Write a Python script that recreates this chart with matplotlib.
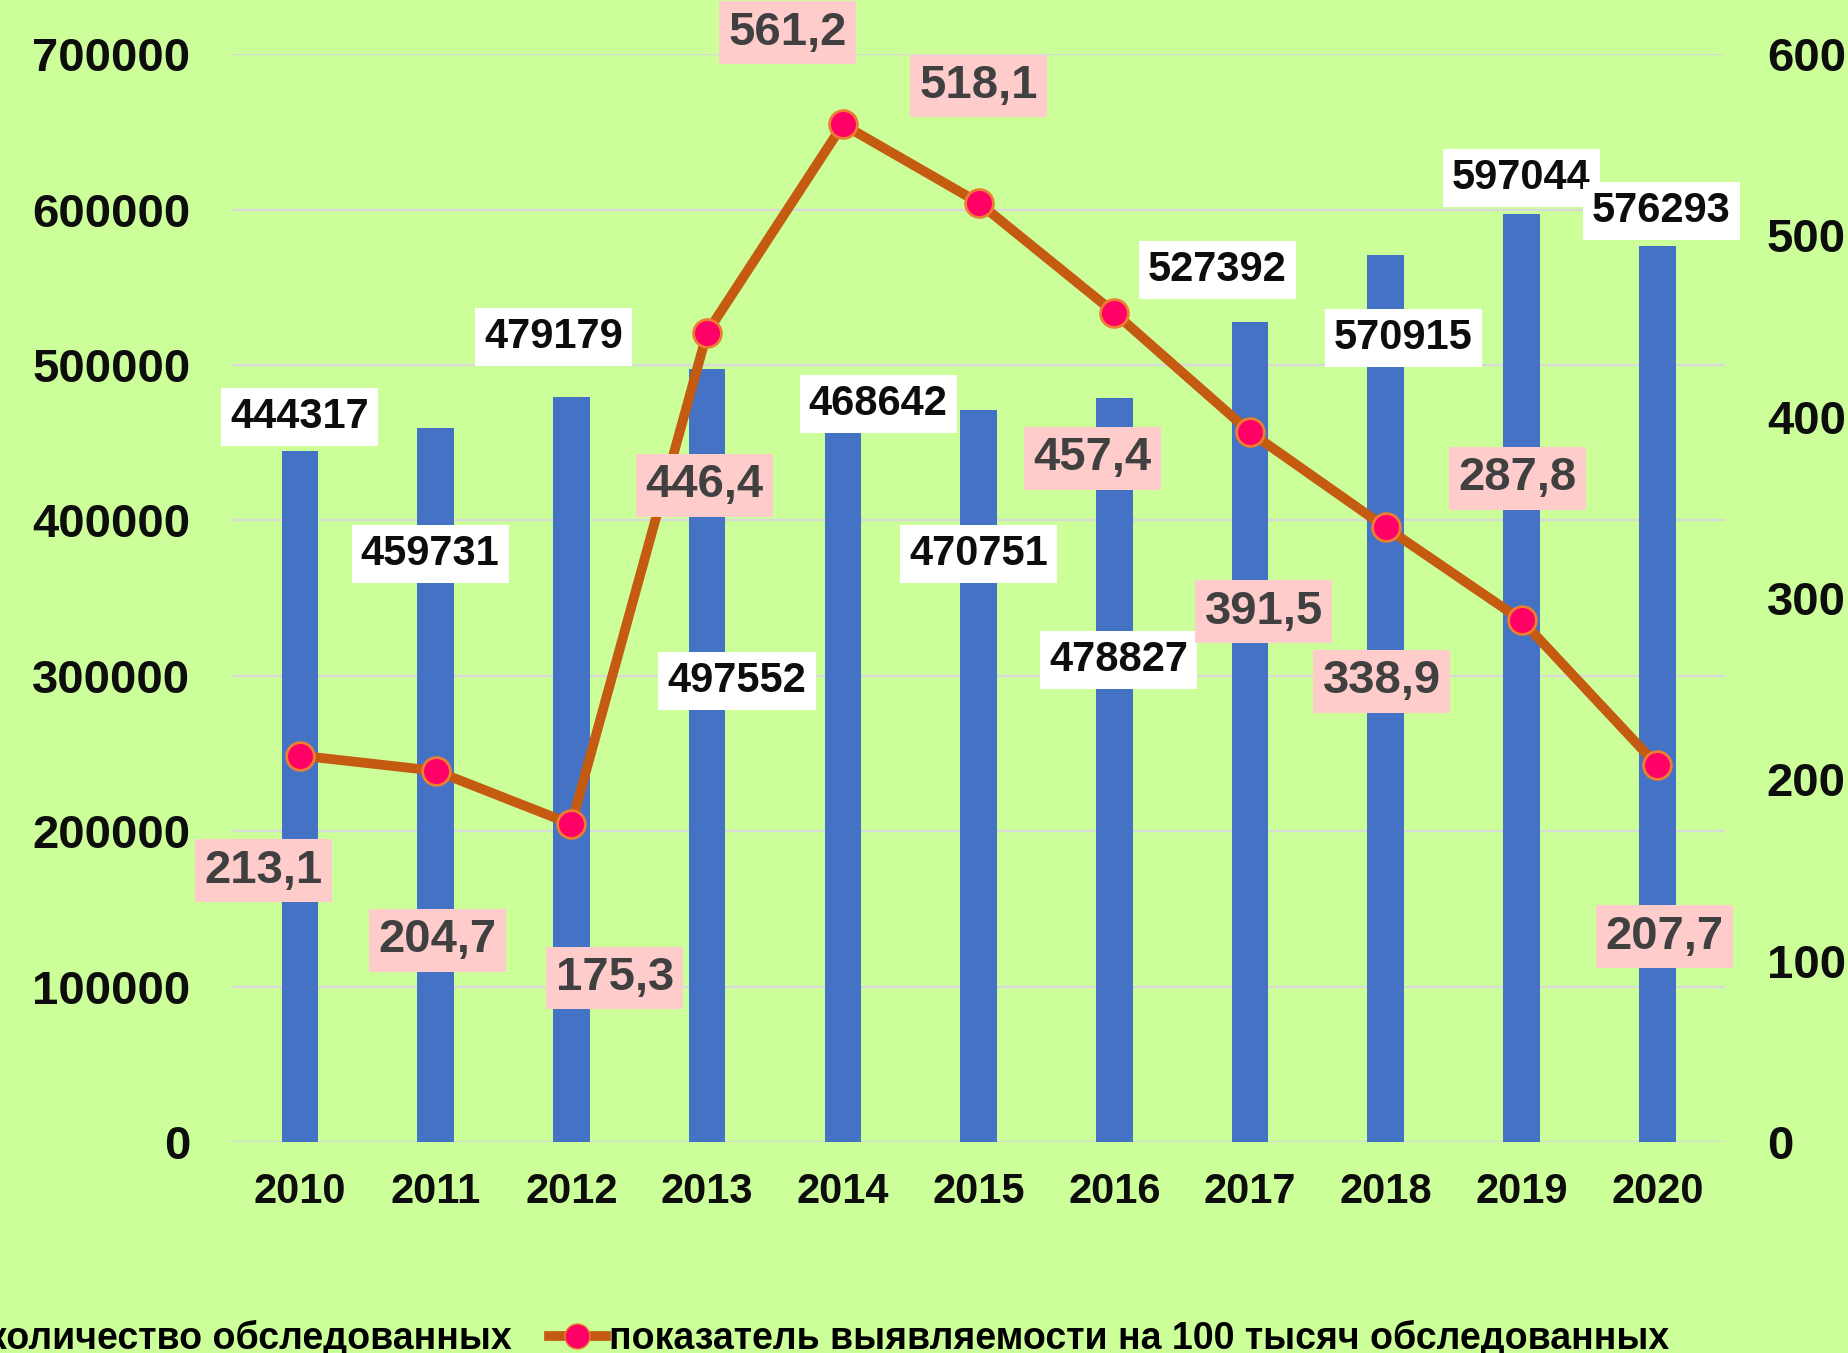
import numpy as np
import matplotlib
matplotlib.use('Agg')
import matplotlib.pyplot as plt
from matplotlib.lines import Line2D
from matplotlib.patches import Patch

plt.rcParams['font.family'] = ['Liberation Sans', 'DejaVu Sans']
plt.rcParams['font.weight'] = 'bold'

years = ['2010', '2011', '2012', '2013', '2014', '2015', '2016', '2017', '2018', '2019', '2020']
examined = [444317, 459731, 479179, 497552, 468642, 470751, 478827, 527392, 570915, 597044, 576293]
rate = [213.1, 204.7, 175.3, 446.4, 561.2, 518.1, 457.4, 391.5, 338.9, 287.8, 207.7]

label_bar = 'количество обследованных'
label_line = 'показатель выявляемости на 100 тысяч обследованных'

# label centres (x shift in categories, y in axis units) - placed by hand like in the original
bar_lbl_dx = [0, -0.04, -0.13, 0.22, 0.26, 0, 0.03, -0.24, 0.13, 0, 0.03]
bar_lbl_y = [466400, 378400, 518000, 296500, 474800, 378400, 310200, 561200, 517200, 620400, 599100]
line_lbl_dx = [-0.27, 0.01, 0.32, -0.02, -0.41, 0, -0.16, 0.10, -0.03, -0.03, 0.05]
line_lbl_y = [149.5, 111.2, 90.4, 362.1, 611.7, 582.4, 377.0, 292.5, 254.2, 366.0, 113.1]

bg = '#CCFF99'
bar_color = '#4472C4'
line_color = '#C55A11'
txt = '#0D0D0D'

fig = plt.figure(figsize=(18.49, 13.53), dpi=100, facecolor=bg)
ax = fig.add_axes([0.1255, 0.156, 0.8075, 0.804])
ax.set_facecolor(bg)
x = np.arange(len(years))

ax.bar(x, examined, width=0.27, color=bar_color, zorder=2)
ax.set_xlim(-0.5, len(years) - 0.5)
ax.set_ylim(0, 700000)
ax.set_yticks(np.arange(0, 700001, 100000))
ax.grid(axis='y', color='#D9D9D9', linewidth=1.6, zorder=0)
ax.set_axisbelow(True)
for s in ax.spines.values():
    s.set_visible(False)
ax.set_xticks(x)
ax.set_xticklabels(years)
ax.tick_params(axis='x', length=0, pad=22, labelsize=30, labelcolor=txt)
ax.tick_params(axis='y', length=0, pad=30, labelsize=34, labelcolor=txt)

ax2 = ax.twinx()
ax2.set_ylim(0, 600)
ax2.set_yticks(np.arange(0, 601, 100))
for s in ax2.spines.values():
    s.set_visible(False)
ax2.tick_params(axis='y', length=0, pad=30, labelsize=34, labelcolor=txt)
ax2.plot(x, rate, color=line_color, linewidth=7, marker='o', markersize=20,
         markerfacecolor='#FF0066', markeredgecolor='#ED7D31', markeredgewidth=2, zorder=3)

for i in range(len(years)):
    ax2.text(x[i] + bar_lbl_dx[i], bar_lbl_y[i], f'{examined[i]}', transform=ax.transData,
             ha='center', va='center', fontsize=30, fontweight='bold', color=txt, zorder=5,
             clip_on=False, bbox=dict(boxstyle='square,pad=0.22', fc='white', ec='none'))
    ax2.text(x[i] + line_lbl_dx[i], line_lbl_y[i], f'{rate[i]:.1f}'.replace('.', ','),
             ha='center', va='center', fontsize=34, fontweight='bold', color='#404040', zorder=5,
             clip_on=False, bbox=dict(boxstyle='square,pad=0.2', fc='#FFCCCC', ec='none'))

handles = [Patch(color=bar_color),
           Line2D([], [], color=line_color, linewidth=7, marker='o', markersize=18,
                  markerfacecolor='#FF0066', markeredgecolor='#ED7D31')]
fig.legend(handles, [label_bar, label_line], loc='center', bbox_to_anchor=(0.432, 0.011),
           ncol=2, frameon=False, handlelength=1.5, handletextpad=0.1,
           columnspacing=1.0, prop={'weight': 'bold', 'size': 27})

fig.savefig('out.png', dpi=100, facecolor=bg)
